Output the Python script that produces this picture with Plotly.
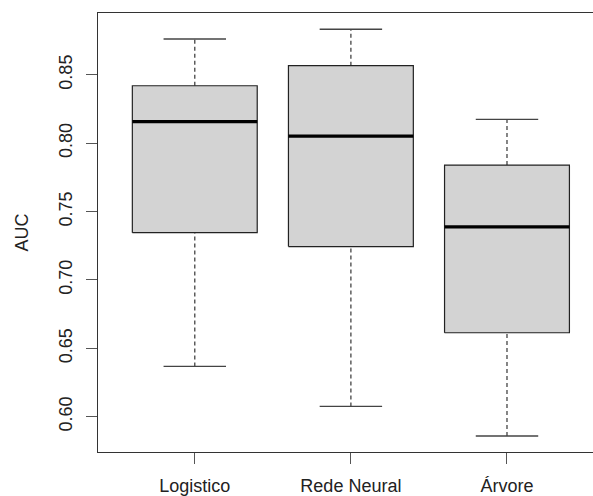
import plotly.graph_objects as go

# Five-number summaries of AUC for each model
categories = ["Logistico", "Rede Neural", "Árvore"]
lower_whisker = [0.6368, 0.6075, 0.5859]
q1 = [0.7346, 0.7244, 0.6614]
median = [0.8157, 0.8052, 0.7388]
q3 = [0.8420, 0.8567, 0.7840]
upper_whisker = [0.8762, 0.8833, 0.8174]
y_ticks = [0.60, 0.65, 0.70, 0.75, 0.80, 0.85]

positions = list(range(1, len(categories) + 1))
box_half = 0.4
cap_half = 0.2
ink = "#222222"

fig = go.Figure()

for x, lw, a, m, b, uw in zip(positions, lower_whisker, q1, median, q3, upper_whisker):
    # dashed whiskers from the box edges to the extremes
    for y0, y1 in ((lw, a), (b, uw)):
        fig.add_trace(go.Scatter(x=[x, x], y=[y0, y1], mode="lines",
                                 line=dict(color="#444444", width=1.3, dash="4px,3px"),
                                 hoverinfo="skip", showlegend=False))
    # whisker caps
    for yc in (lw, uw):
        fig.add_trace(go.Scatter(x=[x - cap_half, x + cap_half], y=[yc, yc], mode="lines",
                                 line=dict(color="#444444", width=1.3),
                                 hoverinfo="skip", showlegend=False))
    # box body
    fig.add_trace(go.Scatter(x=[x - box_half, x + box_half, x + box_half, x - box_half, x - box_half],
                             y=[a, a, b, b, a], mode="lines", fill="toself",
                             fillcolor="#d3d3d3", line=dict(color=ink, width=1.2),
                             hoverinfo="skip", showlegend=False))
    # median bar
    fig.add_trace(go.Scatter(x=[x - box_half, x + box_half], y=[m, m], mode="lines",
                             line=dict(color="#000000", width=3.2),
                             hoverinfo="skip", showlegend=False))

font = dict(family="Liberation Sans, Arial, sans-serif", size=18, color="#222222")

fig.update_layout(
    width=593, height=496,
    margin=dict(l=98, r=0, t=13, b=44),
    paper_bgcolor="white", plot_bgcolor="white",
    font=font,
    xaxis=dict(range=[0.38, 3.551], tickmode="array", tickvals=positions, ticktext=categories,
               showgrid=False, zeroline=False, showline=True, linecolor="#333333", linewidth=1.3,
               mirror=True, ticks="outside", ticklen=11, tickcolor="#555555", tickwidth=1.3,
               tickfont=font, ticklabelstandoff=6),
    yaxis=dict(range=[0.5742, 0.8952], tickmode="array", tickvals=y_ticks,
               ticktext=[f"{v:.2f}" for v in y_ticks], tickangle=-90,
               showgrid=False, zeroline=False, showline=True, linecolor="#333333", linewidth=1.3,
               ticks="outside", ticklen=11, tickcolor="#555555", tickwidth=1.3,
               tickfont=font, ticklabelstandoff=7,
               title=dict(text="AUC", font=font, standoff=22)),
)

fig.write_html("out.html")
